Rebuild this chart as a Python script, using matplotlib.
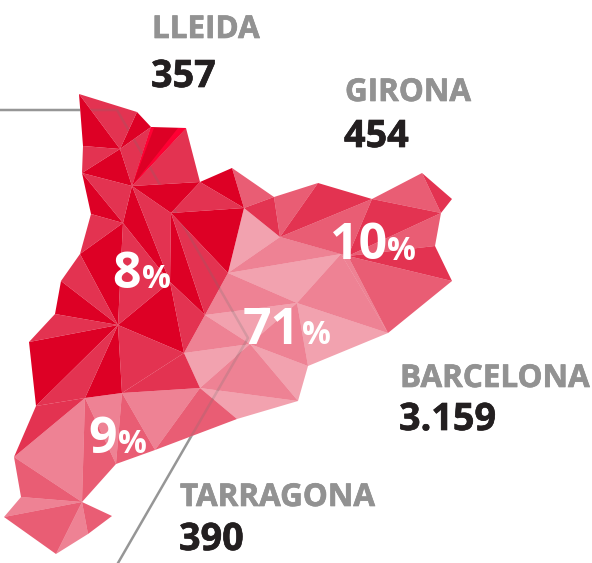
import matplotlib
matplotlib.use('Agg')
import matplotlib.pyplot as plt
import matplotlib.patheffects as pe
from matplotlib.patches import Polygon

# map corners
names = ['A','B','C','D','E','F','G','H','I','J','K','L','M','N','O','P','Q','R','S','T','U','V','W','X','Y','Z',
         'a','b','c','d','e','f','g','h','i','j','k','l','m','n','o','p','q','r','s','t','u','v','w','x','y','z','0','1','2']
vx = [79,137,151,186,200,232,244,171,132,120,83,82,91,123,80,61,55,118,29,170,205,36,85,122,184,200,
      274,280,318,372,422,452,441,435,452,388,341,348,297,250,308,298,237,155,116,82,14,21,4,56,88,112,228,154,178]
vy = [94,112,127,128,182,168,208,213,186,149,146,173,214,223,254,281,314,325,342,282,315,406,398,393,353,388,
      197,237,183,199,173,199,213,246,281,333,254,256,303,344,366,401,419,450,464,502,457,497,517,554,534,516,273,128,128]
pts = dict(zip(names, zip(vx, vy)))

# triangles by strength of the red
solid = ['AJK','BCJ','LJI','LNM','NOR','QPR','SVR','RWX','RTY','HTU','EFG','EHI','INT','CDI','HG0']
strong = ['ABJ','KJL','JCI','IED','LIN','MNO','OPR','NRT','IHT','TUY','EGH','QRS','RVW','RXY','XYZ','VWu','Gab','cdb','dgl','efg','hil','H0U']
medium = ['FaG','acb','bdl','deg','lgh','lij','Zqr','Xrs','Wst','tuv','wtx','tzy']
soft = ['Wtu','WXs','XZr','vtw','xty','bkl','kjm','klj','nYU','mon','Znp','0bk','0mU']
pale = ['Gb0','0km','Umn','YnZ','nop','mjo','Zpq']
bright = ['C1I','2DI']

leader_x = [0, 117, 248, 118]
leader_y = [110, 110, 338, 563]

regions = ['LLEIDA', 'GIRONA', 'BARCELONA', 'TARRAGONA']
counts = ['357', '454', '3.159', '390']
shares = ['8', '10', '71', '9']

RED = '#DD0025'
FONT = 'Open Sans'

fig = plt.figure(figsize=(5.92, 5.63), dpi=100)
ax = fig.add_axes([0, 0, 1, 1])
ax.set_xlim(0, 592)
ax.set_ylim(563, 0)
ax.axis('off')

def draw(tris, alpha, color=RED, z=4):
    out = []
    for t in tris:
        p = Polygon([pts[k] for k in t], closed=True, fc=color, ec='none', alpha=alpha, zorder=z)
        ax.add_patch(p)
        out.append(p)
    return out

# leader line, hidden by a white map, then shown faintly over the lighter triangles only
ax.plot(leader_x, leader_y, color='#969696', lw=1.8, zorder=1)
draw(solid + strong + medium + soft + pale, 1.0, 'white', 2)

draw(solid, 1.0)
see_through = draw(strong, 0.8) + draw(medium, 0.635) + draw(soft, 0.49) + draw(pale, 0.365)
draw(bright, 1.0, '#FF0033', 5)
for p in see_through:
    line, = ax.plot(leader_x, leader_y, color='#707070', lw=1.8, alpha=0.22, zorder=5)
    line.set_clip_path(p)

name_pos = [(152, 38), (345, 101), (400, 387), (180, 506)]
count_pos = [(151, 87), (344, 147), (399, 430), (179, 550)]
bold = [pe.withStroke(linewidth=0.5, foreground='#929292')]
bold_dark = [pe.withStroke(linewidth=0.5, foreground='#231F20')]
for n, c, p, q in zip(regions, counts, name_pos, count_pos):
    ax.text(p[0], p[1], n, color='#929292', fontsize=22.6, fontweight='bold', family=FONT, zorder=6, path_effects=bold)
    ax.text(q[0], q[1], c, color='#231F20', fontsize=27.2, fontweight='bold', family=FONT, zorder=6, path_effects=bold_dark)

digit_pos = [(112, 288), (330, 259), (243, 344), (88, 453)]
pct_pos = [(142, 288), (387, 260), (302, 344), (118, 453)]
for s, p, q in zip(shares, digit_pos, pct_pos):
    ax.text(p[0], p[1], s, color='white', fontsize=36, fontweight='bold', family=FONT, zorder=6)
    ax.text(q[0], q[1], '%', color='white', fontsize=23, fontweight='bold', family=FONT, zorder=6)

fig.savefig('out.png', dpi=100)
